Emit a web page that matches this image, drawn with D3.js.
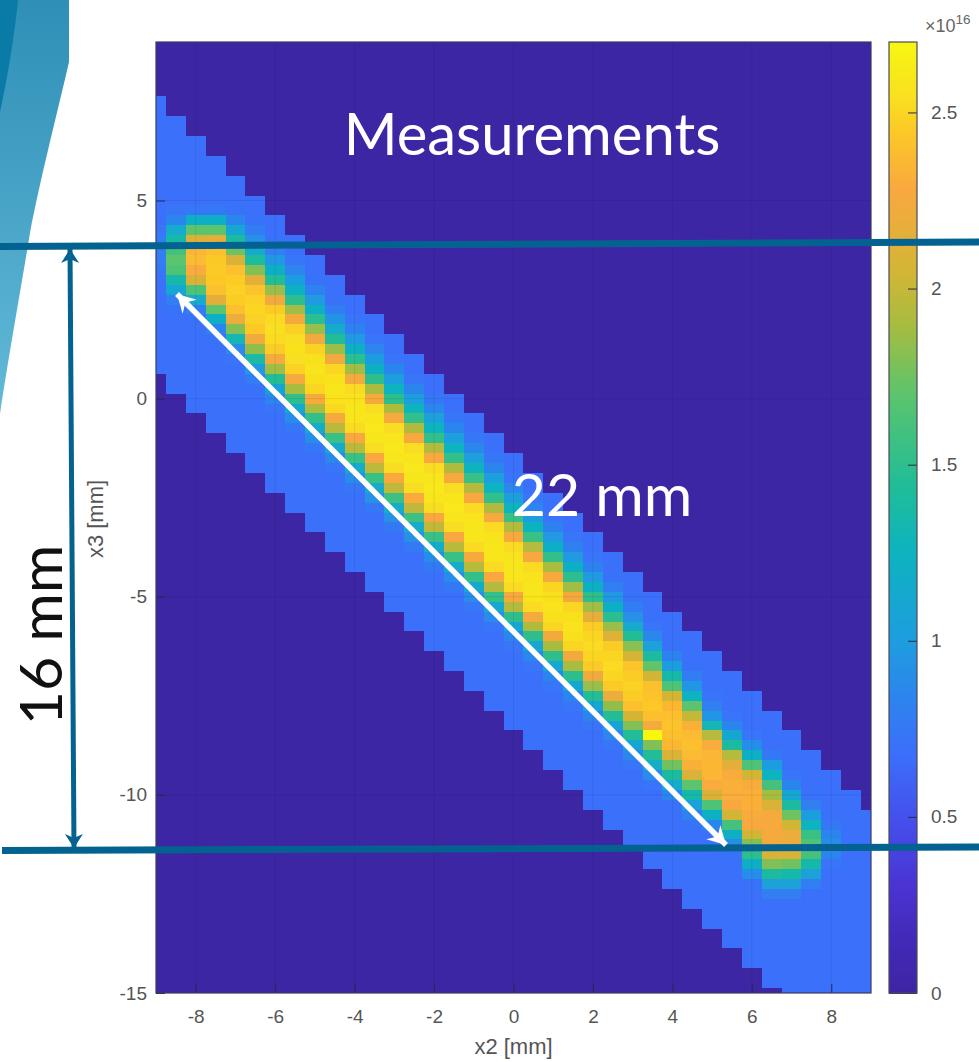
<!DOCTYPE html>
<html>
<head>
<meta charset="utf-8">
<script src="https://cdn.jsdelivr.net/npm/d3@7"></script>
<style>
  html, body { margin: 0; padding: 0; background: #fff; }
  svg { display: block; }
  text { font-family: "Liberation Sans", Arial, sans-serif; }
  .callout { font-family: Lato, "Open Sans", sans-serif; }
</style>
</head>
<body>
<div class="chart"></div>
<script>
var svgWidth = 979;
var svgHeight = 1062;

var margin = { top: 42, right: 108, bottom: 69, left: 156 };
var barLeft = 889;
var barWidth = 28;

// x2 position of each measured column [mm]
var x2Centers = [-9, -8.5, -8, -7.5, -7, -6.5, -6, -5.5, -5, -4.5, -4, -3.5, -3, -2.5, -2, -1.5, -1, -0.5,
  0, 0.5, 1, 1.5, 2, 2.5, 3, 3.5, 4, 4.5, 5, 5.5, 6, 6.5, 7, 7.5, 8, 8.5, 9];

// x3 of the first cell in each column [mm], the window slides down with x2
var x3Tops = [7.5, 7, 6.5, 6, 5.5, 5, 4.5, 4, 3.5, 3, 2.5, 2, 1.5, 1, 0.5, 0, -0.5, -1,
  -1.5, -2, -2.5, -3, -3.5, -4, -4.5, -5, -5.5, -6, -6.5, -7, -7.5, -8, -8.5, -9, -9.5, -10, -10.5];

var rowStep = 0.25;

// one list per column, 28 cells each, in units of 1e14
var densityColumns = [
  [68,68,68,68,68,68,68,68,68,68,68,68,68,72,78,80,78,74,68,68,68,68,68,68,68,68,68,68],
  [68,68,68,68,68,68,68,68,68,72,85,115,135,160,170,165,135,110,80,70,68,68,68,68,68,68,68,68],
  [68,68,68,68,68,68,68,75,120,170,210,235,238,230,210,165,115,80,70,68,68,68,68,68,68,68,68,68],
  [68,68,68,68,68,75,120,170,215,240,244,245,244,240,215,170,120,82,70,68,68,68,68,68,68,68,68,68],
  [68,68,68,70,85,110,140,175,210,240,246,248,246,240,220,180,130,88,72,68,68,68,68,68,68,68,68,68],
  [68,68,70,78,92,115,142,180,215,242,248,250,248,244,222,184,138,98,78,70,68,68,68,68,68,68,68,68],
  [68,68,70,80,96,120,146,186,222,245,252,254,252,246,225,188,145,108,84,72,68,68,68,68,68,68,68,68],
  [68,68,72,84,100,124,150,188,224,247,254,256,254,248,226,190,150,114,90,74,68,68,68,68,68,68,68,68],
  [68,68,70,82,98,122,148,186,224,249,255,257,255,250,226,192,152,116,90,74,68,68,68,68,68,68,68,68],
  [68,68,70,78,94,116,145,186,224,250,256,258,256,251,226,196,154,114,86,72,68,68,68,68,68,68,68,68],
  [68,68,72,82,98,120,148,188,225,252,257,259,258,252,228,196,154,116,90,74,68,68,68,68,68,68,68,68],
  [68,68,72,84,100,122,150,190,226,253,258,260,259,253,228,197,155,116,92,75,68,68,68,68,68,68,68,68],
  [68,68,72,85,102,125,150,191,227,253,258,260,259,253,228,198,156,118,92,75,68,68,68,68,68,68,68,68],
  [68,68,72,85,102,126,152,192,227,253,258,260,259,253,230,198,156,118,92,76,68,68,68,68,68,68,68,68],
  [68,68,74,86,104,126,152,194,228,253,258,260,259,253,228,198,154,116,90,75,68,68,68,68,68,68,68,68],
  [68,68,74,85,102,125,152,192,227,253,258,260,259,253,228,196,154,116,90,75,68,68,68,68,68,68,68,68],
  [68,68,74,86,104,126,154,194,228,252,257,259,258,252,226,195,152,114,88,74,68,68,68,68,68,68,68,68],
  [68,68,74,85,102,125,152,192,227,252,257,259,258,252,228,194,152,114,88,72,68,68,68,68,68,68,68,68],
  [68,68,72,84,102,126,154,194,227,252,257,259,258,252,226,194,150,112,86,72,68,68,68,68,68,68,68,68],
  [68,68,72,84,100,124,155,195,227,252,257,259,258,252,225,192,150,112,86,72,68,68,68,68,68,68,68,68],
  [68,68,72,82,98,120,152,190,226,250,255,257,255,250,224,190,150,112,85,72,68,68,68,68,68,68,68,68],
  [68,68,72,82,98,120,150,188,224,250,255,257,255,250,224,190,148,110,85,72,68,68,68,68,68,68,68,68],
  [68,68,72,82,98,122,150,188,216,246,250,252,250,245,222,186,146,110,85,72,68,68,68,68,68,68,68,68],
  [68,68,70,80,96,120,148,186,212,246,250,252,250,245,220,184,144,108,84,72,68,68,68,68,68,68,68,68],
  [68,68,70,78,92,115,146,182,206,242,246,248,246,240,206,180,144,110,86,72,68,68,68,68,68,68,68,68],
  [68,68,68,72,86,104,140,172,205,240,242,244,240,225,270,180,145,118,88,72,68,68,68,68,68,68,68,68],
  [68,68,68,70,82,100,135,165,205,236,240,242,240,236,210,175,140,115,85,70,68,68,68,68,68,68,68,68],
  [68,68,68,70,78,95,125,170,200,232,238,240,238,232,210,170,135,105,82,70,68,68,68,68,68,68,68,68],
  [68,68,68,68,72,80,95,130,195,230,235,236,235,230,210,165,120,85,68,68,68,68,68,68,68,68,68,68],
  [68,68,68,68,72,85,110,140,195,215,230,232,231,228,205,160,120,90,70,68,68,68,68,68,68,68,68,68],
  [68,68,68,68,72,90,120,165,205,230,232,232,230,228,205,180,150,120,90,70,68,68,68,68,68,68,68,68],
  [68,68,68,68,75,100,125,160,190,210,225,226,226,224,210,180,140,105,80,68,68,68,68,68,68,68,68,68],
  [68,68,68,68,72,85,110,140,175,205,220,222,210,175,135,105,80,68,68,68,68,68,68,68,68,68,68,68],
  [68,68,68,68,70,80,100,125,155,165,160,135,105,80,68,68,68,68,68,68,68,68,68,68,68,68,68,68],
  [68,68,68,68,68,75,85,90,85,72,68,68,68,68,68,68,68,68,68,68,68,68,68,68,68,68,68,68],
  [68,68,68,68,68,68,68,68,68,68,68,68,68,68,68,68,68,68,68,68,68,68,68,68,68,68,68,68],
  [68,68,68,68,68,68,68,68,68,68,68,68,68,68,68,68,68,68,68,68,68,68,68,68,68,68,68,68]
];

var x2Ticks = [-8, -6, -4, -2, 0, 2, 4, 6, 8];
var x3Ticks = [5, 0, -5, -10, -15];
var barTicks = [0, 0.5, 1, 1.5, 2, 2.5];

// colormap (units 1e16)
var colorStops = [0, 0.15, 0.3, 0.5, 0.68, 0.85, 1, 1.25, 1.45, 1.7, 1.9, 2.05, 2.28, 2.42, 2.54, 2.7];
var colorValues = ["#3e25a3", "#4229b8", "#4a33d2", "#4451ec", "#3b6ffb", "#2c86ed", "#1e9ddf", "#0db3bf",
  "#22bd96", "#5cc46c", "#a8bc3f", "#d3b535", "#f9a83f", "#fcc32a", "#f9df20", "#f7f711"];

var width = svgWidth - margin.left - margin.right;
var height = svgHeight - margin.top - margin.bottom;

var xScale = d3.scaleLinear().domain([-9, 9]).range([margin.left, margin.left + width]);
var yScale = d3.scaleLinear().domain([-15, 9]).range([margin.top + height, margin.top]);
var barScale = d3.scaleLinear().domain([0, 2.7]).range([margin.top + height, margin.top]);
var colorScale = d3.scaleLinear().domain(colorStops).range(colorValues);

var svg = d3.select(".chart").append("svg")
  .attr("width", svgWidth)
  .attr("height", svgHeight);

var defs = svg.append("defs");

defs.append("clipPath").attr("id", "plot-clip")
  .append("rect")
  .attr("x", margin.left)
  .attr("y", margin.top)
  .attr("width", width)
  .attr("height", height);

// the source is a soft screenshot
var soft = defs.append("filter").attr("id", "soft")
  .attr("filterUnits", "userSpaceOnUse")
  .attr("x", 0).attr("y", 0).attr("width", svgWidth).attr("height", svgHeight);
soft.append("feGaussianBlur").attr("stdDeviation", 0.6);

var slideFill = defs.append("linearGradient").attr("id", "slide-fill")
  .attr("x1", 0).attr("y1", 0).attr("x2", 0).attr("y2", 1);
slideFill.append("stop").attr("offset", "0%").attr("stop-color", "#2f8fb6");
slideFill.append("stop").attr("offset", "100%").attr("stop-color", "#62bad9");

// slide decoration in the top left corner
svg.append("path")
  .attr("d", "M18,0 L69,0 L69,62 C58,110 40,180 30,233 C24,270 8,360 0,414 L0,0 Z")
  .attr("fill", "url(#slide-fill)");
svg.append("path")
  .attr("d", "M0,0 L18,0 C14,40 6,85 0,112 Z")
  .attr("fill", "#0a7ba6");

// heat map
var plotClip = svg.append("g").attr("clip-path", "url(#plot-clip)");
var heat = plotClip.append("g").attr("filter", "url(#soft)");

heat.append("rect")
  .attr("x", margin.left - 5)
  .attr("y", margin.top - 5)
  .attr("width", width + 10)
  .attr("height", height + 10)
  .attr("fill", colorScale(0));

var cells = [];
densityColumns.forEach(function(column, i) {
  column.forEach(function(value, j) {
    cells.push({ x2: x2Centers[i], x3: x3Tops[i] - j * rowStep, value: value / 100 });
  });
});

heat.selectAll("rect.cell")
  .data(cells)
  .enter()
  .append("rect")
  .attr("class", "cell")
  .attr("x", d => xScale(d.x2 - 0.25))
  .attr("y", d => yScale(d.x3 + rowStep / 2))
  .attr("width", xScale(0.5) - xScale(0))
  .attr("height", yScale(0) - yScale(rowStep))
  .attr("fill", d => colorScale(d.value))
  .attr("shape-rendering", "crispEdges");

// faint grid
plotClip.append("g").selectAll("line")
  .data(x2Ticks)
  .enter()
  .append("line")
  .attr("x1", d => xScale(d))
  .attr("x2", d => xScale(d))
  .attr("y1", margin.top)
  .attr("y2", margin.top + height)
  .attr("stroke", "#000")
  .attr("stroke-opacity", 0.08);
plotClip.append("g").selectAll("line")
  .data(x3Ticks)
  .enter()
  .append("line")
  .attr("x1", margin.left)
  .attr("x2", margin.left + width)
  .attr("y1", d => yScale(d))
  .attr("y2", d => yScale(d))
  .attr("stroke", "#000")
  .attr("stroke-opacity", 0.08);

// axes, ticks point inward like the MATLAB ones
function styleAxis(g) {
  g.select(".domain").remove();
  g.selectAll("line").attr("stroke", "#2a2a4a").attr("stroke-width", 1);
  g.selectAll("text")
    .attr("fill", "#555")
    .attr("font-size", 19)
    .attr("font-family", "Liberation Sans");
}

svg.append("g")
  .attr("transform", `translate(0, ${margin.top + height})`)
  .call(d3.axisBottom(xScale).tickValues(x2Ticks).tickFormat(String).tickSizeInner(-9).tickPadding(17))
  .call(styleAxis);

svg.append("g")
  .attr("transform", `translate(${margin.left}, 0)`)
  .call(d3.axisLeft(yScale).tickValues(x3Ticks).tickFormat(String).tickSizeInner(-9).tickPadding(9))
  .call(styleAxis);

svg.append("rect")
  .attr("x", margin.left)
  .attr("y", margin.top)
  .attr("width", width)
  .attr("height", height)
  .attr("fill", "none")
  .attr("stroke", "#3b3b66")
  .attr("stroke-width", 1.2);

svg.append("text")
  .attr("x", xScale(0))
  .attr("y", 1054)
  .attr("text-anchor", "middle")
  .attr("fill", "#555")
  .attr("font-size", 22)
  .text("x2 [mm]");

svg.append("text")
  .attr("transform", `translate(103, 519) rotate(-90)`)
  .attr("text-anchor", "middle")
  .attr("fill", "#555")
  .attr("font-size", 22)
  .text("x3 [mm]");

// colour bar
var barSteps = d3.range(0, 2.7, 0.005);
svg.append("g").selectAll("rect")
  .data(barSteps)
  .enter()
  .append("rect")
  .attr("x", barLeft)
  .attr("y", d => barScale(d + 0.005))
  .attr("width", barWidth)
  .attr("height", barScale(0) - barScale(0.008))
  .attr("fill", d => colorScale(d))
  .attr("shape-rendering", "crispEdges");

svg.append("g")
  .attr("transform", `translate(${barLeft + barWidth}, 0)`)
  .call(d3.axisRight(barScale).tickValues(barTicks).tickFormat(String).tickSizeInner(-9).tickPadding(14))
  .call(styleAxis);

svg.append("rect")
  .attr("x", barLeft)
  .attr("y", margin.top)
  .attr("width", barWidth)
  .attr("height", height)
  .attr("fill", "none")
  .attr("stroke", "#4a4a55")
  .attr("stroke-width", 1.2);

var exponent = svg.append("text")
  .attr("x", 925)
  .attr("y", 32)
  .attr("fill", "#666")
  .attr("font-size", 18);
exponent.append("tspan").text("×10");
exponent.append("tspan").attr("font-size", 13.5).attr("dy", -8).text("16");

// overlay lines and arrows from the slide
var teal = "#03628f";

function drawArrowHead(g, x1, y1, x2, y2, color, length, halfWidth, notch) {
  var angle = Math.atan2(y2 - y1, x2 - x1);
  var ux = Math.cos(angle), uy = Math.sin(angle);
  var px = -uy, py = ux;
  var points = [
    [x2, y2],
    [x2 - ux * length + px * halfWidth, y2 - uy * length + py * halfWidth],
    [x2 - ux * notch, y2 - uy * notch],
    [x2 - ux * length - px * halfWidth, y2 - uy * length - py * halfWidth]
  ];
  g.append("polygon").attr("points", points.join(" ")).attr("fill", color);
}

function drawDoubleArrow(x1, y1, x2, y2, color, lineWidth, length, halfWidth, notch) {
  var g = svg.append("g");
  g.append("line")
    .attr("x1", x1).attr("y1", y1).attr("x2", x2).attr("y2", y2)
    .attr("stroke", color)
    .attr("stroke-width", lineWidth);
  drawArrowHead(g, x1, y1, x2, y2, color, length, halfWidth, notch);
  drawArrowHead(g, x2, y2, x1, y1, color, length, halfWidth, notch);
}

svg.append("line")
  .attr("x1", 0).attr("y1", 246.5).attr("x2", 979).attr("y2", 242)
  .attr("stroke", teal).attr("stroke-width", 7);
svg.append("line")
  .attr("x1", 2).attr("y1", 850.5).attr("x2", 979).attr("y2", 847)
  .attr("stroke", teal).attr("stroke-width", 7);

drawDoubleArrow(70, 249, 74, 848, teal, 5, 14, 9, 10);
drawDoubleArrow(177, 294, 726, 845, "#fff", 5.5, 18, 10, 12);

// callouts
svg.append("text")
  .attr("class", "callout")
  .attr("x", 532)
  .attr("y", 155)
  .attr("text-anchor", "middle")
  .attr("fill", "#fff")
  .attr("font-size", 58)
  .text("Measurements");

svg.append("text")
  .attr("class", "callout")
  .attr("x", 602)
  .attr("y", 516)
  .attr("text-anchor", "middle")
  .attr("fill", "#fff")
  .attr("font-size", 59)
  .text("22 mm");

svg.append("text")
  .attr("class", "callout")
  .attr("transform", `translate(62, 635) rotate(-90)`)
  .attr("text-anchor", "middle")
  .attr("fill", "#111")
  .attr("font-size", 59)
  .text("16 mm");
</script>
</body>
</html>
